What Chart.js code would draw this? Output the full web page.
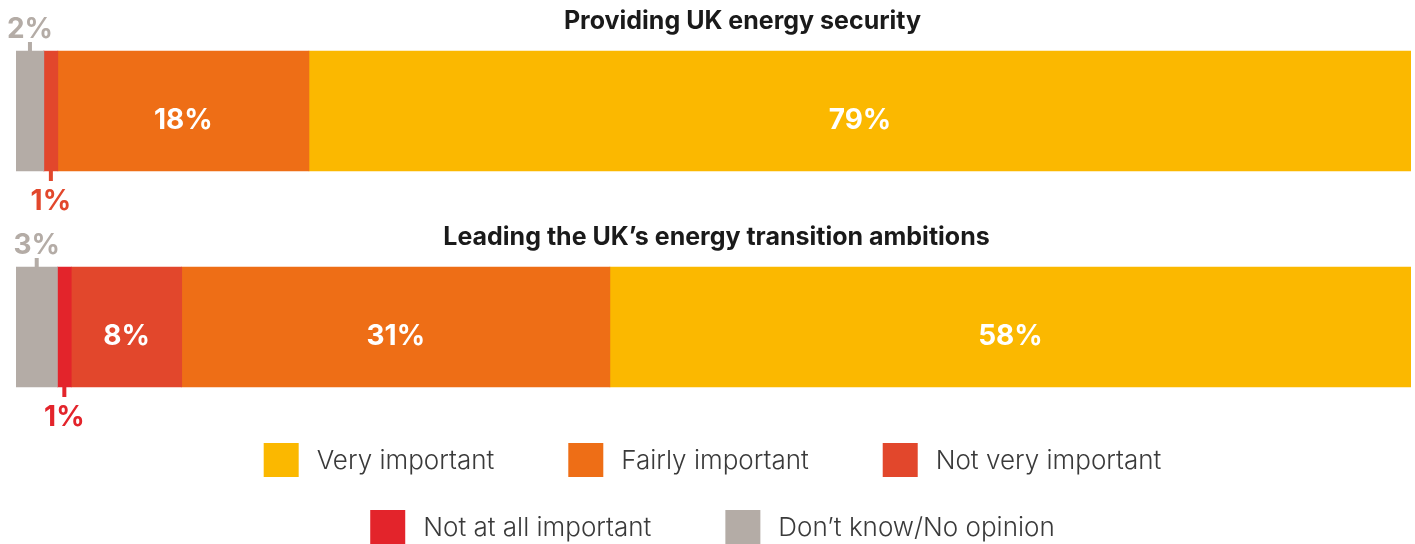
<!DOCTYPE html>
<html>
<head>
<meta charset="utf-8">
<script src="https://cdn.jsdelivr.net/npm/chart.js@4"></script>
<style>
  html, body { margin: 0; padding: 0; background: #fff; }
</style>
</head>
<body>
<canvas id="chart" width="1415" height="544"></canvas>
<script>
// Categories (one bar each) and series values, in stack order left to right
const categories = ['Providing UK energy security', 'Leading the UK\u2019s energy transition ambitions'];
const seriesNames = ['Don\u2019t know/No opinion', 'Not at all important', 'Not very important', 'Fairly important', 'Very important'];
const dontKnow = [2, 3];
const notAtAll = [0, 1];
const notVery = [1, 8];
const fairly = [18, 31];
const very = [79, 58];
const seriesColors = ['#B4ACA6', '#E3242B', '#E2472C', '#EE6E16', '#FBB800'];

const seriesValues = [dontKnow, notAtAll, notVery, fairly, very];
// each bar is drawn at full width, so scale each category to its own total
const totals = categories.map((c, i) => seriesValues.reduce((s, arr) => s + arr[i], 0));

const datasets = seriesNames.map((name, d) => ({
  label: name,
  data: seriesValues[d].map((v, i) => v / totals[i] * 100),
  backgroundColor: seriesColors[d],
  borderWidth: 0,
  barThickness: 120
}));

const FONT = '"Inter", "Open Sans", "DejaVu Sans", sans-serif';

// Titles above each bar, value labels, leader lines for small segments
const barLabels = {
  id: 'barLabels',
  afterDatasetsDraw(chart) {
    const ctx = chart.ctx;
    const yScale = chart.scales.y;
    const area = chart.chartArea;
    ctx.save();

    // category titles
    ctx.font = 'bold 25px ' + FONT;
    ctx.fillStyle = '#1a1a1a';
    ctx.textAlign = 'center';
    ctx.textBaseline = 'alphabetic';
    const titleShift = [29, 3];
    categories.forEach((cat, i) => {
      ctx.fillText(cat, (area.left + area.right) / 2 + titleShift[i], yScale.getPixelForValue(i) - 82);
    });

    ctx.font = 'bold 28px ' + FONT;
    chart.data.datasets.forEach((ds, d) => {
      const meta = chart.getDatasetMeta(d);
      meta.data.forEach((bar, i) => {
        const raw = seriesValues[d][i];
        if (!raw) return;
        const left = Math.min(bar.base, bar.x);
        const right = Math.max(bar.base, bar.x);
        const cx = (left + right) / 2;
        const top = bar.y - bar.height / 2;
        const bottom = bar.y + bar.height / 2;
        const text = raw + '%';
        if (right - left > 70) {
          ctx.fillStyle = '#fff';
          ctx.fillText(text, cx, bar.y + 18);
        } else {
          ctx.fillStyle = seriesColors[d];
          if (d === 0) {
            ctx.fillRect(cx - 2, top - 9, 4, 9);
            ctx.fillText(text, cx, top - 13);
          } else {
            ctx.fillRect(cx - 2, bottom, 4, 10);
            ctx.fillText(text, cx, bottom + 39);
          }
        }
      });
    });
    ctx.restore();
  }
};

// Legend drawn in two centred rows below the bars
const legendRows = [[4, 3, 2], [1, 0]];
const bottomLegend = {
  id: 'bottomLegend',
  afterDraw(chart) {
    const ctx = chart.ctx;
    const area = chart.chartArea;
    const boxW = 35, boxH = 34, textGap = 18, itemGap = 74;
    const centerX = (area.left + area.right) / 2 - 1;
    ctx.save();
    ctx.font = '300 26px ' + FONT;
    ctx.textAlign = 'left';
    ctx.textBaseline = 'middle';
    legendRows.forEach((row, r) => {
      const boxTop = area.bottom + 8 + r * 67;
      const widths = row.map(d => boxW + textGap + ctx.measureText(seriesNames[d]).width);
      const total = widths.reduce((a, b) => a + b, 0) + itemGap * (row.length - 1);
      let x = centerX - total / 2;
      row.forEach((d, k) => {
        ctx.fillStyle = seriesColors[d];
        ctx.fillRect(x, boxTop, boxW, boxH);
        ctx.fillStyle = '#3a3a3a';
        ctx.fillText(seriesNames[d], x + boxW + textGap, boxTop + boxH / 2 + 1);
        x += widths[k] + itemGap;
      });
    });
    ctx.restore();
  }
};

new Chart(document.getElementById('chart').getContext('2d'), {
  type: 'bar',
  data: { labels: categories, datasets: datasets },
  options: {
    indexAxis: 'y',
    responsive: false,
    animation: false,
    devicePixelRatio: 1,
    layout: { padding: { left: 16, right: 4, top: 3, bottom: 109 } },
    scales: {
      x: { stacked: true, min: 0, max: 100, display: false },
      y: { stacked: true, display: false }
    },
    plugins: {
      legend: { display: false },
      tooltip: { enabled: false }
    }
  },
  plugins: [barLabels, bottomLegend]
});
</script>
</body>
</html>
